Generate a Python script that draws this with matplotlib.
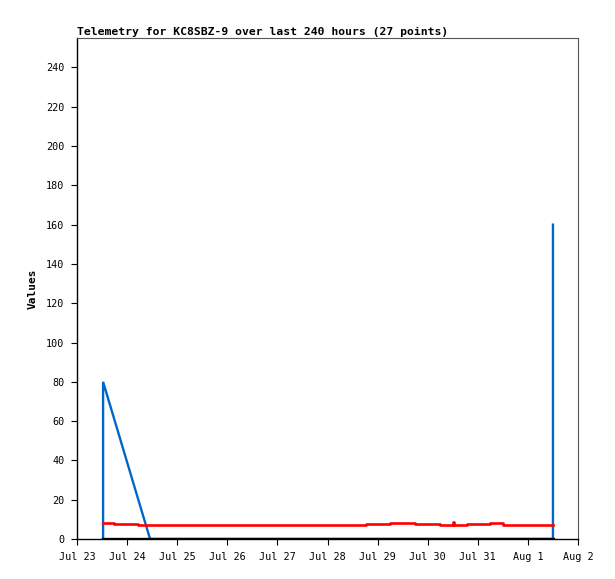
import numpy as np
import matplotlib
matplotlib.use("Agg")
import matplotlib.pyplot as plt

# hours since Jul 23 00:00
day_labels = ["Jul 23", "Jul 24", "Jul 25", "Jul 26", "Jul 27", "Jul 28",
              "Jul 29", "Jul 30", "Jul 31", "Aug 1", "Aug 2"]

red_hours = [12.5, 17.7, 29.2, 138.4, 150.0, 162.0, 174.0, 180.0, 180.7,
             187.0, 198.0, 204.0, 228.0]
red_vals = [8.2, 7.6, 7.1, 7.6, 8.2, 7.6, 7.1, 8.5, 7.1, 7.6, 8.2, 7.1, 7.1]

blue_hours = [12.5, 12.5, 35.0, 228.0, 228.0]
blue_vals = [0, 80, 0, 0, 160]

black_hours = [12.5, 228.0]
black_vals = [0, 0]

MONO = "DejaVu Sans Mono"

fig = plt.figure(figsize=(6.15, 5.79), dpi=100)
ax = fig.add_axes([77 / 615, 40 / 579, 501 / 615, 501 / 579])

ax.plot(blue_hours, blue_vals, color="#0066cc", lw=1.7, solid_joinstyle="miter")
ax.plot(red_hours, red_vals, color="#ff0000", lw=1.9, drawstyle="steps-post")
ax.plot(black_hours, black_vals, color="black", lw=2.4)

ax.set_xlim(0, 240)
ax.set_ylim(0, 255)
ax.set_xticks(np.arange(0, 241, 24))
ax.set_xticklabels(day_labels)
ax.set_yticks(np.arange(0, 241, 20))

for lab in ax.get_xticklabels() + ax.get_yticklabels():
    lab.set_fontfamily(MONO)
    lab.set_fontsize(7.3)

ax.tick_params(direction="out", length=4.5, width=0.8, color="black", pad=4.5)

for side in ["left", "bottom"]:
    ax.spines[side].set_color("black")
    ax.spines[side].set_linewidth(1.0)
for side in ["top", "right"]:
    ax.spines[side].set_color("#555555")
    ax.spines[side].set_linewidth(0.8)

ax.set_ylabel("Values", fontfamily=MONO, fontweight="bold", fontsize=8, labelpad=6)
ax.set_title("Telemetry for KC8SBZ-9 over last 240 hours (27 points)",
             fontfamily=MONO, fontweight="bold", fontsize=8.2, loc="left", pad=2)

fig.savefig("out.png", dpi=100)
